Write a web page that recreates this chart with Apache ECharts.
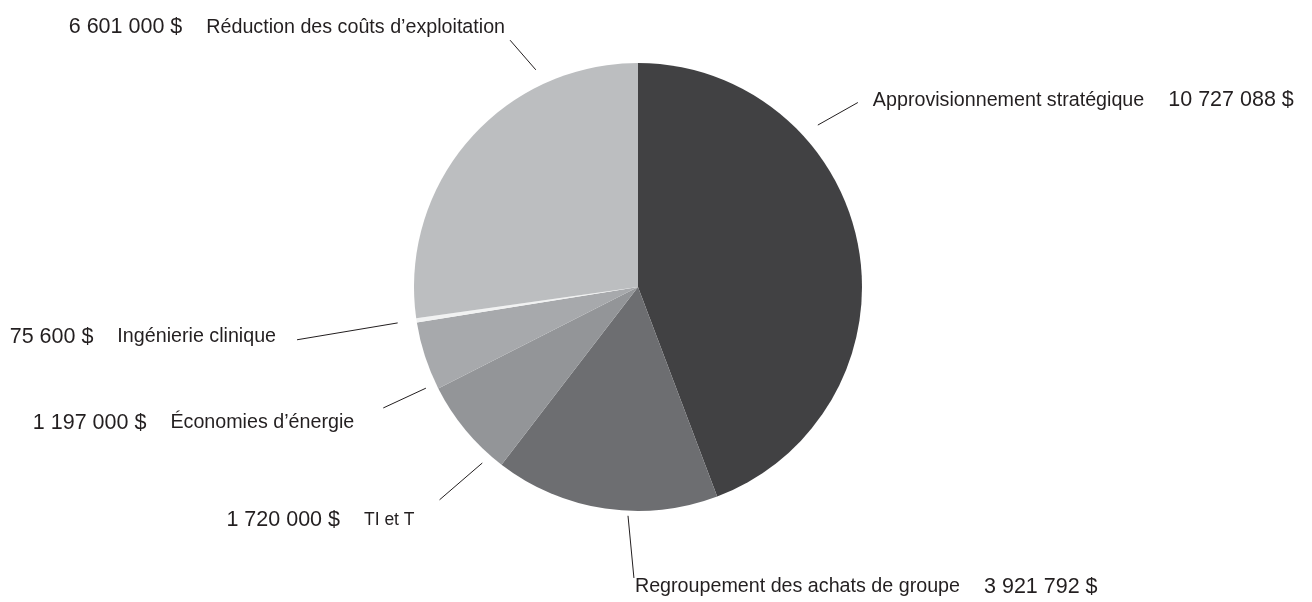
<!DOCTYPE html>
<html>
<head>
<meta charset="utf-8">
<script src="https://cdn.jsdelivr.net/npm/echarts@6/dist/echarts.min.js"></script>
<style>html,body{margin:0;padding:0;background:#fff;}#c{width:1312px;height:602px;}</style>
</head>
<body>
<div id="c"></div>
<script>
var categories = ['Approvisionnement stratégique','Regroupement des achats de groupe','TI et T','Économies d’énergie','Ingénierie clinique','Réduction des coûts d’exploitation'];
var values = [10727088, 3921792, 1720000, 1197000, 75600, 6601000];
var valueLabels = ['10 727 088 $','3 921 792 $','1 720 000 $','1 197 000 $','75 600 $','6 601 000 $'];
var colors = ['#414143','#6d6e71','#939598','#a7a9ac','#f1f2f2','#bcbec0'];
// label geometry: [lineStartAngle, lineStartR, lineEndAngle, lineEndR, textDx, textDy, textSide]
var labelGeo = [
  [48, 242, 50, 287, 15, -2, 'right'],
  [182.5, 229, 180.8, 291, 1, 9, 'right'],
  [221.5, 235, 223, 291, -25, 20, 'left'],
  [244.5, 235, 244.6, 282, -29, 15, 'left'],
  [261.5, 243, 261.2, 345, -21, -3, 'left'],
  [334.8, 240, 332.6, 278, -5, -13, 'left']
];
var chart = echarts.init(document.getElementById('c'));
var CX = 638, CY = 287;
function pt(a, r){ var t = a*Math.PI/180; return [CX + r*Math.sin(t), CY - r*Math.cos(t)]; }
var data = categories.map(function(n,i){ return {name:n, value:values[i], itemStyle:{color:colors[i]}}; });
var FONT = 'Liberation Sans, Arial, sans-serif';
chart.setOption({
  animation:false,
  backgroundColor:'#fff',
  series:[{
    type:'pie',
    center:[CX, CY],
    radius:[0, 224],
    startAngle:90,
    clockwise:true,
    data:data,
    itemStyle:{borderColor:'#fff', borderWidth:0},
    emphasis:{disabled:true},
    label:{
      show:true,
      position:'outside',
      overflow:'none',
      fontFamily:FONT,
      color:'#231f20',
      formatter:function(p){
        var g = labelGeo[p.dataIndex];
        if (g[6]==='right') return '{n|'+p.name+'}{s|}{v|'+valueLabels[p.dataIndex]+'}';
        return '{v|'+valueLabels[p.dataIndex]+'}{s|}{' + (p.dataIndex === 2 ? 'm' : 'n') + '|'+p.name+'}';
      },
      rich:{
        v:{fontSize:21.5, fontFamily:FONT, color:'#231f20'},
        n:{fontSize:19.7, fontFamily:FONT, color:'#231f20'},
        m:{fontSize:17.5, fontFamily:FONT, color:'#231f20'},
        s:{width:24}
      }
    },
    labelLine:{show:true, lineStyle:{color:'#231f20', width:1}},
    labelLayout:function(p){
      var g = labelGeo[p.dataIndex];
      var a = pt(g[0], g[1]), b = pt(g[2], g[3]);
      return {
        x: b[0] + g[4],
        y: b[1] + g[5],
        align: g[6] === 'right' ? 'left' : 'right',
        verticalAlign:'middle',
        labelLinePoints:[a, b, b]
      };
    }
  }]
});
</script>
</body>
</html>
